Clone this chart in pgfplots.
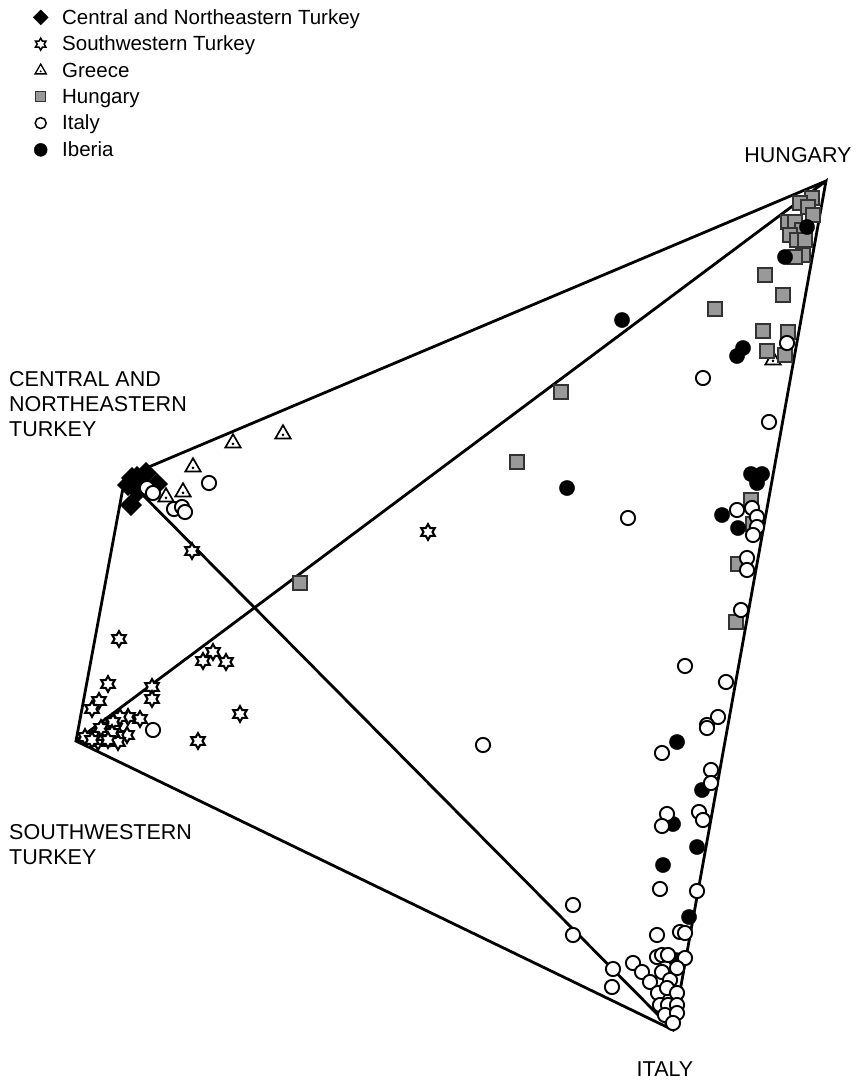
\documentclass[border=0pt]{standalone}
\usepackage{pgfplots}
\pgfplotsset{compat=1.18}
\usepackage{fontspec}
\setmainfont{Liberation Sans}
\pgfdeclareplotmark{hexstar}{%
  \pgfpathmoveto{\pgfpointpolar{90}{\pgfplotmarksize}}%
  \pgfpathlineto{\pgfpointpolar{120}{0.577\pgfplotmarksize}}%
  \pgfpathlineto{\pgfpointpolar{150}{\pgfplotmarksize}}%
  \pgfpathlineto{\pgfpointpolar{180}{0.577\pgfplotmarksize}}%
  \pgfpathlineto{\pgfpointpolar{210}{\pgfplotmarksize}}%
  \pgfpathlineto{\pgfpointpolar{240}{0.577\pgfplotmarksize}}%
  \pgfpathlineto{\pgfpointpolar{270}{\pgfplotmarksize}}%
  \pgfpathlineto{\pgfpointpolar{300}{0.577\pgfplotmarksize}}%
  \pgfpathlineto{\pgfpointpolar{330}{\pgfplotmarksize}}%
  \pgfpathlineto{\pgfpointpolar{0}{0.577\pgfplotmarksize}}%
  \pgfpathlineto{\pgfpointpolar{30}{\pgfplotmarksize}}%
  \pgfpathlineto{\pgfpointpolar{60}{0.577\pgfplotmarksize}}%
  \pgfpathclose
  \pgfusepathqfillstroke}
\pgfdeclareplotmark{tridot}{%
  \pgfpathmoveto{\pgfpointpolar{90}{\pgfplotmarksize}}%
  \pgfpathlineto{\pgfpointpolar{210}{\pgfplotmarksize}}%
  \pgfpathlineto{\pgfpointpolar{330}{\pgfplotmarksize}}%
  \pgfpathclose
  \pgfusepathqfillstroke
  \pgfscope
  \pgfpathcircle{\pgfpoint{0pt}{-0.1\pgfplotmarksize}}{0.16\pgfplotmarksize}%
  \pgfsetfillcolor{black}%
  \pgfusepathqfill
  \endpgfscope}
\definecolor{hgray}{gray}{0.6}
\begin{document}
\begin{tikzpicture}
\begin{axis}[
  scale only axis, width=855pt, height=1081pt,
  xmin=0, xmax=855, ymin=0, ymax=1081, y dir=reverse,
  hide axis, clip=false,
  legend style={at={(axis cs:33,8)}, anchor=north west, draw=none, fill=none,
    font=\fontsize{20.5}{22}\selectfont, inner sep=0pt, row sep=8.4pt,
    nodes={inner sep=1pt},
    /tikz/every odd column/.append style={column sep=13pt}},
  legend cell align=left,
]
\addlegendimage{only marks, mark=square*, mark size=5.3pt, mark options={rotate=45, fill=black, draw=black}}
\addlegendentry{Central and Northeastern Turkey}
\addlegendimage{only marks, mark=hexstar, mark size=6pt, mark options={fill=white, draw=black, line width=1.5pt}}
\addlegendentry{Southwestern Turkey}
\addlegendimage{only marks, mark=tridot, mark size=6.5pt, mark options={fill=white, draw=black, line width=1.3pt}}
\addlegendentry{Greece}
\addlegendimage{only marks, mark=square*, mark size=5pt, mark options={fill=hgray, draw=black!80, line width=1.4pt}}
\addlegendentry{Hungary}
\addlegendimage{only marks, mark=*, mark size=5.5pt, mark options={fill=white, draw=black, line width=1.5pt}}
\addlegendentry{Italy}
\addlegendimage{only marks, mark=*, mark size=6.5pt, mark options={fill=black, draw=black}}
\addlegendentry{Iberia}
% bounding
\addplot[draw=none, forget plot] coordinates {(0,0) (855,1081)};
% tetrahedron edges
\addplot[black, line width=2.8pt, forget plot, line join=miter] coordinates {
 (826,181) (125,477) (76,741) (673,1030) (826,181) (76,741)};
\addplot[black, line width=2.8pt, forget plot] coordinates {(125,477) (673,1030)};
% Southwestern Turkey
\addplot[only marks, mark=hexstar, mark size=7.8pt, mark options={fill=white, draw=black, line width=2.1pt}, forget plot] coordinates {
 (192,551) (119,639) (428,532) (108,684) (99,701) (92,709) (152,687) (152,699)
 (203,661) (213,652) (226,662) (240,714) (198,741) (140,719) (128,717) (120,717)
 (127,735) (118,735) (115,728) (103,732) (97,735) (85,737) (98,742) (110,738)
 (118,742) (108,727) (113,722) (104,736) (92,740) (106,731) (101,728) (112,733) (108,740)};
% Central and Northeastern Turkey
\addplot[only marks, mark=square*, mark size=7.5pt, mark options={rotate=45, fill=black, draw=black}, forget plot] coordinates {
 (128,485) (137,477) (146,473) (157,484) (131,505) (138,491) (132,478)};
% Greece
\addplot[only marks, mark=tridot, mark size=8.8pt, mark options={fill=white, draw=black, line width=1.7pt}, forget plot] coordinates {
 (233,443) (283,434) (193,467) (183,492) (166,497) (773,360)};
% Hungary
\addplot[only marks, mark=square*, mark size=6.8pt, mark options={fill=hgray, draw=black!80, line width=1.7pt}, forget plot] coordinates {
 (812,198) (800,203) (808,207) (813,215) (788,222) (795,222) (802,230) (790,235)
 (797,240) (805,240) (803,255) (795,257) (765,275) (783,295) (715,309) (763,331)
 (788,332) (767,351) (785,355) (561,392) (517,462) (300,583) (751,500) (753,524)
 (738,564) (736,622)};
% Iberia
\addplot[only marks, mark=*, mark size=7.6pt, mark options={fill=black, draw=black}, forget plot] coordinates {
 (807,227) (785,257) (743,348) (737,356) (622,320) (567,488) (751,474) (762,474)
 (757,483) (722,515) (738,528) (677,742) (702,790) (673,824) (697,847) (663,865)
 (689,917) (676,960)};
% Italy
\addplot[only marks, mark=*, mark size=7.1pt, mark options={fill=white, draw=black, line width=1.9pt}, forget plot] coordinates {
 (787,343) (703,378) (147,488) (153,493) (174,509) (182,507) (185,512) (209,483)
 (153,730) (769,422) (737,510) (752,508) (757,517) (757,527) (753,535) (747,558)
 (747,570) (741,610) (628,518) (685,666) (726,682) (718,717) (707,725) (707,728)
 (662,753) (711,770) (711,783) (667,814) (662,826) (699,812) (703,820) (483,745)
 (660,889) (697,891) (573,905) (573,935)
 (680,932) (685,933) (657,935) (613,969) (612,987) (633,963) (642,972) (650,982)
 (657,957) (662,955) (668,955) (685,958) (662,972) (670,980) (677,968) (658,993)
 (667,988) (677,993) (660,1005) (668,1005) (677,1005) (665,1015) (677,1013) (673,1023)};
% labels
\begin{scope}[font=\fontsize{21.5}{25}\selectfont]
\node[anchor=base] at (axis cs:798,162) {HUNGARY};
\node[anchor=base west, align=left, inner sep=0pt] at (axis cs:9,436) {CENTRAL AND\\NORTHEASTERN\\TURKEY};
\node[anchor=base west, align=left, inner sep=0pt] at (axis cs:9,864) {SOUTHWESTERN\\TURKEY};
\node[anchor=base] at (axis cs:665,1076) {ITALY};
\end{scope}
\end{axis}
\end{tikzpicture}
\end{document}
